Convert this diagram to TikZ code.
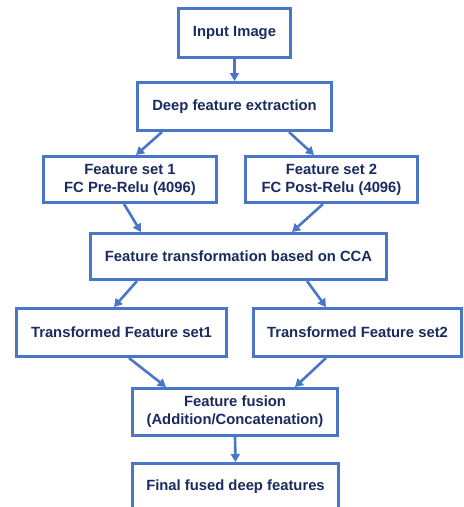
\documentclass[tikz,border=0pt]{standalone}
\usepackage{fontspec}
\setmainfont{Liberation Sans}
\usetikzlibrary{arrows.meta,calc}
\definecolor{boxblue}{HTML}{4A76C8}
\definecolor{txtnavy}{HTML}{1A2B5F}
\begin{document}
\begin{tikzpicture}[x=1pt,y=-1pt,
  box/.style={draw=boxblue,line width=3pt,fill=white,text=txtnavy,
    font=\fontsize{14.8}{18}\selectfont\bfseries,align=center,inner sep=0pt},
  arr/.style={draw=boxblue,line width=2.6pt,-{Triangle[length=8pt,width=9pt]}}]
\useasboundingbox (0,0) rectangle (464,507);
\clip (0,0) rectangle (464,507);
\node[box,minimum width=112pt,minimum height=49pt] (inp) at (234.5,33) {Input Image};
\node[box,minimum width=194pt,minimum height=48pt] (deep) at (234.5,106.5) {Deep feature extraction};
\node[box,minimum width=173pt,minimum height=46pt] (fs1) at (130,179.5) {Feature set 1\\FC Pre-Relu (4096)};
\node[box,minimum width=172pt,minimum height=46pt] (fs2) at (331.5,179.5) {Feature set 2\\FC Post-Relu (4096)};
\node[box,minimum width=296pt,minimum height=46pt] (cca) at (238.5,256.5) {Feature transformation based on CCA};
\node[box,minimum width=210pt,minimum height=48pt] (t1) at (121.5,332.5) {Transformed Feature set1};
\node[box,minimum width=208pt,minimum height=48pt] (t2) at (357.5,332.5) {Transformed Feature set2};
\node[box,minimum width=205pt,minimum height=47pt] (fus) at (235,412) {Feature fusion\\(Addition/Concatenation)};
\node[box,minimum width=206pt,minimum height=47pt] (fin) at (235.5,487) {Final fused deep features};
\draw[arr] (inp.south) -- (deep.north);
\draw[arr] ([xshift=-72.5pt]deep.south) -- ([xshift=6pt]fs1.north);
\draw[arr] ([xshift=54.5pt]deep.south) -- ([xshift=-17.5pt]fs2.north);
\draw[arr] ([xshift=-6pt]fs1.south) -- ([xshift=-97.5pt]cca.north);
\draw[arr] ([xshift=-8.5pt]fs2.south) -- ([xshift=53.5pt]cca.north);
\draw[arr] ([xshift=-101.5pt]cca.south) -- ([xshift=-7.5pt]t1.north);
\draw[arr] ([xshift=68.5pt]cca.south) -- ([xshift=-31.5pt]t2.north);
\draw[arr] ([xshift=7.5pt]t1.south) -- ([xshift=-69pt]fus.north);
\draw[arr] ([xshift=-31.5pt]t2.south) -- ([xshift=60pt]fus.north);
\draw[arr] (fus.south) -- (fin.north);
\end{tikzpicture}
\end{document}
